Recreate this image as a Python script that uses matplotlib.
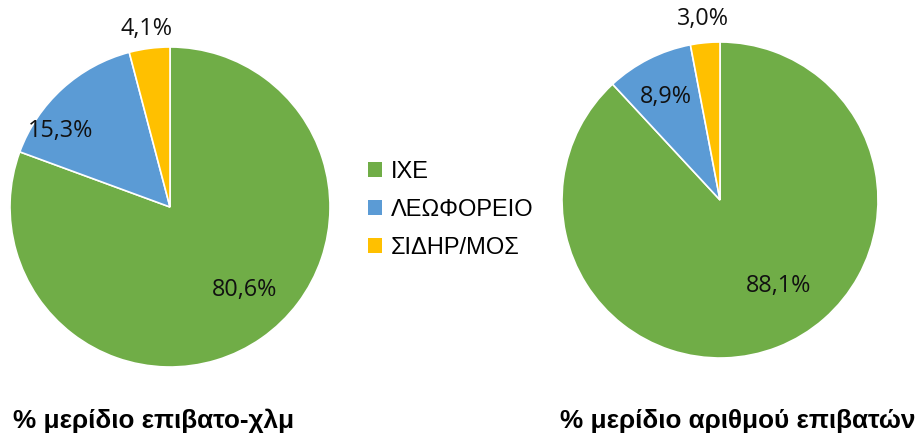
import matplotlib
matplotlib.use("Agg")
import matplotlib.pyplot as plt
import numpy as np

categories = ["ΙΧΕ", "ΛΕΩΦΟΡΕΙΟ", "ΣΙΔΗΡ/ΜΟΣ"]
share_pkm = [80.6, 15.3, 4.1]
share_pass = [88.1, 8.9, 3.0]
titles = ["% μερίδιο επιβατο-χλμ", "% μερίδιο αριθμού επιβατών"]
colors = ["#70AD47", "#5B9BD5", "#FFC000"]

W, H = 922, 438
fig = plt.figure(figsize=(W / 100, H / 100), dpi=100)

def make_ax(cx, cy, r):
    return fig.add_axes([(cx - r) / W, 1 - (cy + r) / H, 2 * r / W, 2 * r / H])

# (radius, angle shift in degrees) per label - style only
label_style_left = [(0.70, 7), (0.83, 13), (1.12, 0)]
label_style_right = [(0.66, 13), (0.74, 1), (1.15, 0)]

def fmt(v):
    return f"{v:.1f}".replace(".", ",") + "%"

def draw(ax, vals, lstyle):
    wedges, _ = ax.pie(vals, colors=colors, startangle=90, counterclock=False,
                       radius=1.0, wedgeprops=dict(edgecolor="white", linewidth=1.2))
    for w, v, (rad, sh) in zip(wedges, vals, lstyle):
        mid = np.deg2rad((w.theta1 + w.theta2) / 2 + sh)
        ax.text(rad * np.cos(mid), rad * np.sin(mid), fmt(v), ha="center", va="center",
                fontsize=16.8, family="Open Sans", color="#111111")
    ax.set_xlim(-1, 1)
    ax.set_ylim(-1, 1)
    ax.set_aspect("equal")
    ax.axis("off")
    return wedges

ax1 = make_ax(170, 207, 160)
ax2 = make_ax(720, 200, 158)
wedges = draw(ax1, share_pkm, label_style_left)
draw(ax2, share_pass, label_style_right)

fig.text(154 / W, 1 - 421 / H, titles[0], ha="center", va="center",
         fontsize=18.8, fontweight="bold", family="Liberation Sans")
fig.text(737.5 / W, 1 - 421 / H, titles[1], ha="center", va="center",
         fontsize=18.8, fontweight="bold", family="Liberation Sans")

leg = fig.legend(wedges, categories, loc="center left",
                 bbox_to_anchor=(368 / W, 1 - 210 / H), frameon=False,
                 prop=dict(family="Liberation Sans", size=17),
                 handlelength=0.6, handleheight=0.6, handletextpad=0.35,
                 labelspacing=0.68, borderpad=0, borderaxespad=0)
for h in leg.legend_handles:
    h.set_edgecolor("none")

fig.savefig("out.png", dpi=100)
